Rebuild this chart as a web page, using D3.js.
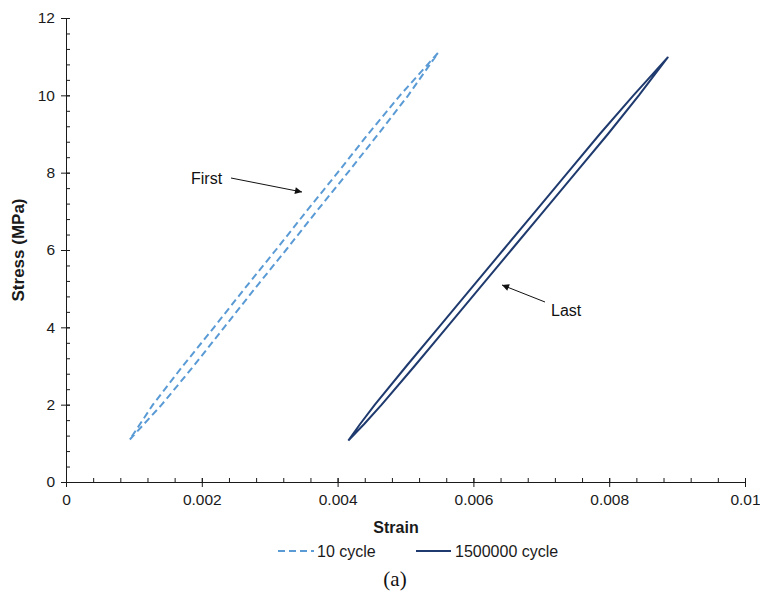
<!DOCTYPE html>
<html>
<head>
<meta charset="utf-8">
<script src="https://cdn.jsdelivr.net/npm/d3@7"></script>
<style>
  body { margin: 0; background: #fff; }
  svg { display: block; font-family: "Liberation Sans", Arial, sans-serif; }
</style>
</head>
<body>
<div id="chart"></div>
<script>
// 10 cycle loop: loading branch (bottom -> top), then unloading back down
const tenLoadStress   = [1.1, 2, 3, 4, 5, 6, 7, 8, 9, 10, 11.1];
const tenLoadStrain   = [0.00094, 0.00141, 0.00188, 0.00233, 0.00278, 0.00324, 0.00369, 0.00415, 0.00460, 0.00504, 0.00548];
const tenUnloadStress = [11.1, 10, 9, 8, 7, 6, 5, 4, 3, 2, 1.1];
const tenUnloadStrain = [0.00548, 0.00492, 0.00445, 0.00400, 0.00354, 0.00309, 0.00263, 0.00218, 0.00172, 0.00128, 0.00094];

// 1500000 cycle loop
const lastLoadStress   = [1.07, 1.5, 2, 3, 4, 5, 6, 7, 8, 9, 10, 10.98];
const lastLoadStrain   = [0.004158, 0.004392, 0.004649, 0.005134, 0.005609, 0.006084, 0.006558, 0.007033, 0.007508, 0.007982, 0.008437, 0.008862];
const lastUnloadStress = [10.98, 10, 9, 8, 7, 6, 5, 4, 3, 2, 1.5, 1.07];
const lastUnloadStrain = [0.008862, 0.008357, 0.007862, 0.007388, 0.006913, 0.006438, 0.005964, 0.005489, 0.005014, 0.004549, 0.004332, 0.004158];

const xTicks = [0, 0.002, 0.004, 0.006, 0.008, 0.01];
const xTickLabels = ['0', '0.002', '0.004', '0.006', '0.008', '0.01'];
const yTicks = [0, 2, 4, 6, 8, 10, 12];

const width = 760, height = 599;
const margin = { top: 18, right: 15, bottom: 117, left: 66 };
const textColor = '#1a1a1a';

const svg = d3.select('#chart').append('svg')
    .attr('width', width)
    .attr('height', height);

const x = d3.scaleLinear().domain([0, 0.01]).range([margin.left, width - margin.right]);
const y = d3.scaleLinear().domain([0, 12]).range([height - margin.bottom, margin.top]);

const xMinor = d3.range(0, 0.01 + 1e-9, 0.0004);
const yMinor = d3.range(0, 12 + 1e-9, 0.4);

// minor ticks (inside)
svg.append('g')
    .attr('transform', `translate(0,${y(0)})`)
    .call(d3.axisBottom(x).tickValues(xMinor).tickSize(-4).tickFormat(''))
    .call(g => g.select('.domain').remove());
svg.append('g')
    .attr('transform', `translate(${x(0)},0)`)
    .call(d3.axisLeft(y).tickValues(yMinor).tickSize(-4).tickFormat(''))
    .call(g => g.select('.domain').remove());

// major axes
const xAxis = svg.append('g')
    .attr('transform', `translate(0,${y(0)})`)
    .call(d3.axisBottom(x).tickValues(xTicks).tickSize(5).tickPadding(7)
        .tickFormat((d, i) => xTickLabels[i]));
xAxis.selectAll('.tick line').attr('y1', -4);

const yAxis = svg.append('g')
    .attr('transform', `translate(${x(0)},0)`)
    .call(d3.axisLeft(y).tickValues(yTicks).tickSize(5).tickPadding(6));
yAxis.selectAll('.tick line').attr('x1', 4);

svg.selectAll('.domain, .tick line').attr('stroke', textColor).attr('stroke-width', 1);
svg.selectAll('g').filter(function () { return this.getAttribute('text-anchor'); })
    .attr('font-size', 15.5)
    .attr('font-family', '"Liberation Sans", Arial, sans-serif');
svg.selectAll('.tick text').attr('fill', textColor);

// axis titles
svg.append('text')
    .attr('x', 396).attr('y', 533)
    .attr('text-anchor', 'middle')
    .attr('font-size', 16).attr('font-weight', 'bold')
    .attr('fill', textColor)
    .text('Strain');
svg.append('text')
    .attr('transform', `translate(24,${(y(0) + y(12)) / 2}) rotate(-90)`)
    .attr('text-anchor', 'middle')
    .attr('font-size', 17).attr('font-weight', 'bold')
    .attr('fill', textColor)
    .text('Stress (MPa)');

// loops
const line = d3.line().x(d => x(d[0])).y(d => y(d[1]));
const zipPts = (strain, stress) => strain.map((s, i) => [s, stress[i]]);

const tenPts = zipPts(tenLoadStrain, tenLoadStress).concat(zipPts(tenUnloadStrain, tenUnloadStress).slice(1));
const lastPts = zipPts(lastLoadStrain, lastLoadStress).concat(zipPts(lastUnloadStrain, lastUnloadStress).slice(1));

svg.append('path')
    .datum(tenPts)
    .attr('fill', 'none')
    .attr('stroke', '#5b9bd5')
    .attr('stroke-width', 2)
    .attr('stroke-dasharray', '7,4')
    .attr('d', line);

svg.append('path')
    .datum(lastPts)
    .attr('fill', 'none')
    .attr('stroke', '#1f3a6e')
    .attr('stroke-width', 2)
    .attr('stroke-linejoin', 'round')
    .attr('d', line);

// annotations
svg.append('defs').append('marker')
    .attr('id', 'arrow')
    .attr('viewBox', '0 0 10 10')
    .attr('refX', 10).attr('refY', 5)
    .attr('markerWidth', 9).attr('markerHeight', 7)
    .attr('markerUnits', 'userSpaceOnUse')
    .attr('orient', 'auto')
    .append('path')
    .attr('d', 'M0,0 L10,5 L0,10 Z')
    .attr('fill', '#111');

svg.append('text')
    .attr('x', 191).attr('y', 184)
    .attr('font-size', 16).attr('fill', '#111')
    .text('First');
svg.append('line')
    .attr('x1', 231).attr('y1', 178)
    .attr('x2', 302).attr('y2', 192)
    .attr('stroke', '#111').attr('stroke-width', 1)
    .attr('marker-end', 'url(#arrow)');

svg.append('text')
    .attr('x', 551).attr('y', 316)
    .attr('font-size', 16).attr('fill', '#111')
    .text('Last');
svg.append('line')
    .attr('x1', 545).attr('y1', 302)
    .attr('x2', 502).attr('y2', 285)
    .attr('stroke', '#111').attr('stroke-width', 1)
    .attr('marker-end', 'url(#arrow)');

// legend
const legend = svg.append('g').attr('transform', 'translate(0,551)');
legend.append('line')
    .attr('x1', 278).attr('x2', 314)
    .attr('stroke', '#5b9bd5').attr('stroke-width', 2)
    .attr('stroke-dasharray', '7,4');
legend.append('text')
    .attr('x', 317).attr('y', 6)
    .attr('font-size', 16).attr('fill', textColor)
    .text('10 cycle');
legend.append('line')
    .attr('x1', 416).attr('x2', 451)
    .attr('stroke', '#1f3a6e').attr('stroke-width', 2);
legend.append('text')
    .attr('x', 455).attr('y', 6)
    .attr('font-size', 16).attr('fill', textColor)
    .text('1500000 cycle');

// caption
svg.append('text')
    .attr('x', 395).attr('y', 586)
    .attr('text-anchor', 'middle')
    .attr('font-family', '"Liberation Serif", "Times New Roman", serif')
    .attr('font-size', 21).attr('fill', '#111')
    .text('(a)');
</script>
</body>
</html>
